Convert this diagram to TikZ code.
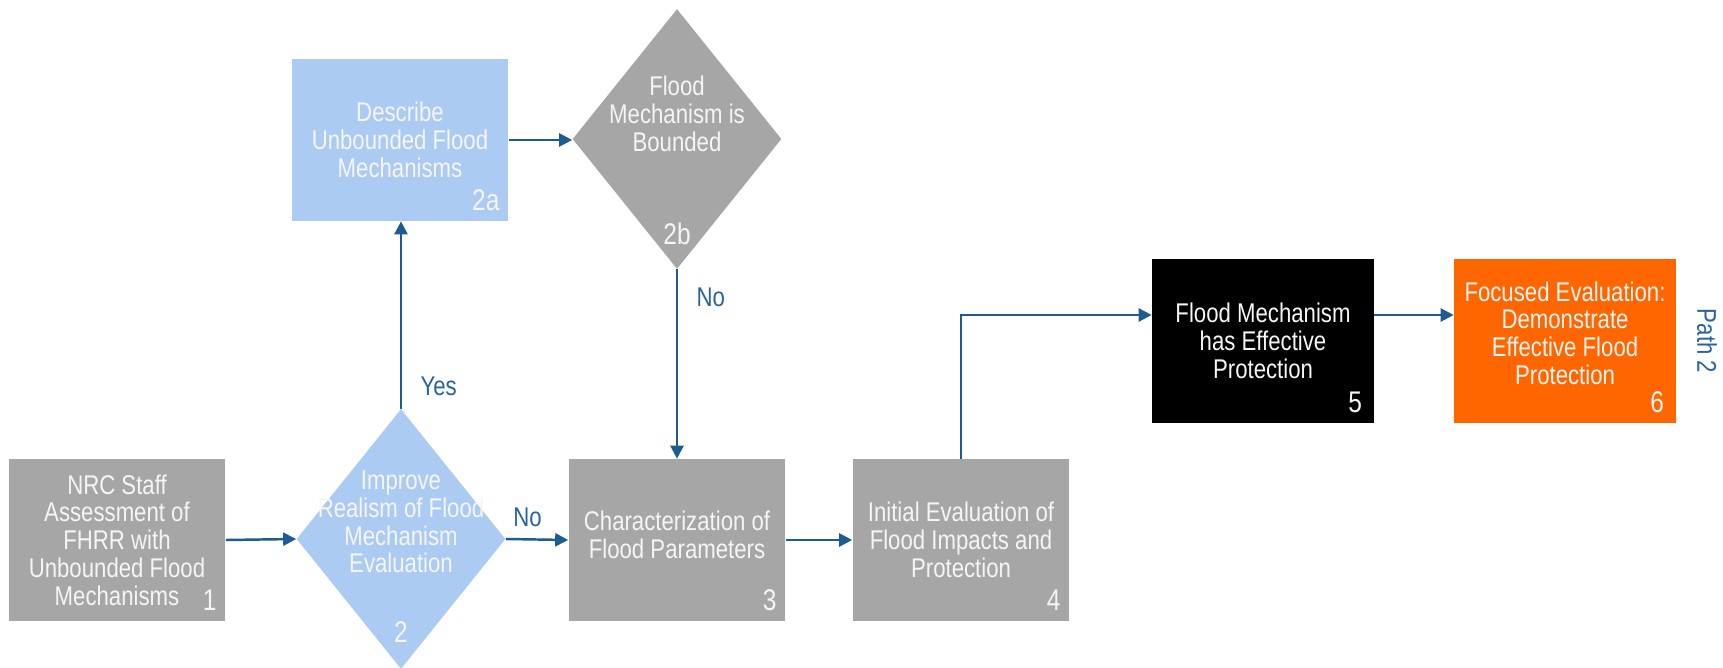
\documentclass[tikz,border=0pt]{standalone}
\usepackage{fontspec}
\setmainfont[FakeStretch=0.82]{Liberation Sans}
\usetikzlibrary{shapes.geometric,arrows.meta}
\definecolor{boxgray}{RGB}{166,166,166}
\definecolor{lblue}{RGB}{172,203,243}
\definecolor{orng}{RGB}{255,102,0}
\definecolor{arrblue}{RGB}{28,92,146}
\definecolor{lblcol}{RGB}{40,100,158}
\definecolor{txtw}{RGB}{245,245,245}
\begin{document}
\begin{tikzpicture}[x=0.02cm,y=-0.02cm,
  box/.style={rectangle, minimum width=4.34cm, minimum height=3.24cm, inner sep=0pt,
    align=center, text=txtw, font=\fontsize{15.4}{15.8}\selectfont},
  dia/.style={diamond, minimum width=4.18cm, minimum height=5.2cm, inner sep=0pt},
  txt/.style={align=center, text=txtw, font=\fontsize{15.4}{15.8}\selectfont},
  num/.style={anchor=south east, inner sep=0pt, text=txtw, font=\fontsize{17}{18}\selectfont},
  arr/.style={draw=arrblue, line width=1.4pt, -{Triangle[length=0.26cm,width=0.26cm]}},
  lbl/.style={text=lblcol, font=\fontsize{15.4}{16}\selectfont}
]
\useasboundingbox (0,0) rectangle (1723,668);

\node[box, fill=boxgray] (b1) at (117,540) {NRC Staff\\Assessment of\\FHRR with\\Unbounded Flood\\Mechanisms};
\node[num] (n1) at ([shift={(-9,-10)}]b1.south east) {1};

\node[dia, fill=lblue] (d2) at (401,539) {};
\node[txt] (t2) at (401,522) {Improve\\Realism of Flood\\Mechanism\\Evaluation};
\node[num, anchor=center] (n2) at (401,632) {2};

\node[box, fill=lblue] (b2a) at (400,140) {Describe\\Unbounded Flood\\Mechanisms};
\node[num] (n2a) at ([shift={(-9,-10)}]b2a.south east) {2a};

\node[dia, fill=boxgray] (d2b) at (677,139) {};
\node[txt] (t2b) at (677,114) {Flood\\Mechanism is\\Bounded};
\node[num, anchor=center] (n2b) at (677,234) {2b};

\node[box, fill=boxgray] (b3) at (677,540) {};
\node[txt] (t3) at (677,535) {Characterization of\\Flood Parameters};
\node[num] (n3) at ([shift={(-9,-10)}]b3.south east) {3};

\node[box, fill=boxgray] (b4) at (961,540) {Initial Evaluation of\\Flood Impacts and\\Protection};
\node[num] (n4) at ([shift={(-9,-10)}]b4.south east) {4};

\node[box, fill=black, minimum width=4.44cm, minimum height=3.28cm] (b5) at (1263,341) {Flood Mechanism\\has Effective\\Protection};
\node[num] (n5) at ([shift={(-12,-10)}]b5.south east) {5};

\node[box, fill=orng, minimum width=4.44cm, minimum height=3.28cm] (b6) at (1565,341) {};
\node[txt] (t6) at (1565,333) {Focused Evaluation:\\Demonstrate\\Effective Flood\\Protection};
\node[num] (n6) at ([shift={(-12,-10)}]b6.south east) {6};

\node[lbl, rotate=-90] (p2) at (1707,341) {Path 2};

\draw[arr] (b1.east) -- (d2.west);
\draw[arr] (d2.north) -- (d2.north |- b2a.south) node[lbl, pos=0.03, anchor=south west, xshift=0.25cm] (yes) {Yes};
\draw[arr] (b2a.east) -- (b2a.east -| d2b.west);
\draw[arr] (d2b.south) -- (b3.north) node[lbl, pos=0.15, anchor=west, xshift=0.25cm] (no2) {No};
\draw[arr] (d2.east) -- (b3.west) node[lbl, pos=0.35, anchor=south, yshift=0.12cm] (no1) {No};
\draw[arr] (b3.east) -- (b4.west);
\draw[arr] (b4.north) |- ([yshift=0.52cm]b5.west);
\draw[arr] ([yshift=0.52cm]b5.east) -- ([yshift=0.52cm]b6.west);
\end{tikzpicture}
\end{document}
